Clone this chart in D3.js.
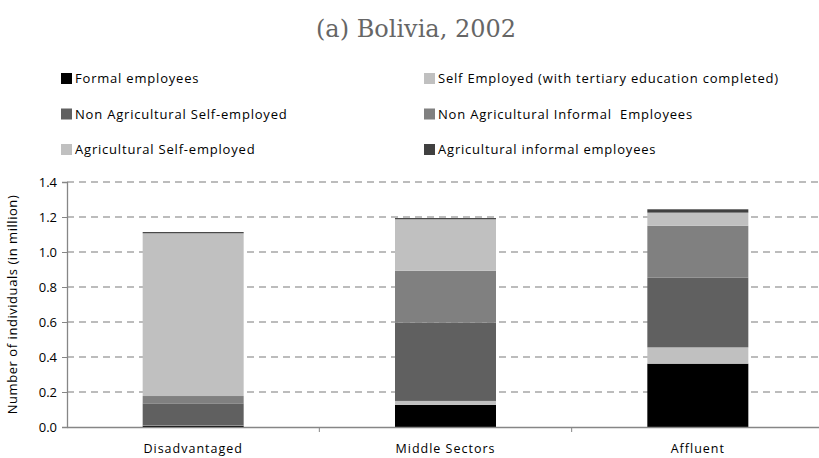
<!DOCTYPE html>
<html>
<head>
<meta charset="utf-8">
<script src="https://cdn.jsdelivr.net/npm/d3@7"></script>
<style>
body { margin: 0; background: #fff; }
text { font-family: "Open Sans", "DejaVu Sans", sans-serif; }
</style>
</head>
<body>
<script>
var width = 819,
    height = 458;

// categories along the x axis
var categories = ["Disadvantaged", "Middle Sectors", "Affluent"];

// series, bottom to top of each stack (values in million)
var seriesNames = [
  "Formal employees",
  "Self Employed (with tertiary education completed)",
  "Non Agricultural Self-employed",
  "Non Agricultural Informal  Employees",
  "Agricultural Self-employed",
  "Agricultural informal employees"
];
var formal        = [0.008, 0.126, 0.362];
var selfTertiary  = [0.002, 0.023, 0.093];
var nonAgSelf     = [0.125, 0.447, 0.398];
var nonAgInformal = [0.042, 0.297, 0.297];
var agSelf        = [0.930, 0.294, 0.075];
var agInformal    = [0.007, 0.007, 0.019];

var yTicks = [0, 0.2, 0.4, 0.6, 0.8, 1.0, 1.2, 1.4];

var colors = ["#000000", "#c0c0c0", "#606060", "#808080", "#c0c0c0", "#404040"];

var allSeries = [formal, selfTertiary, nonAgSelf, nonAgInformal, agSelf, agInformal];

// build a table for d3.stack
var table = categories.map(function(c, i) {
  var row = {cat: c};
  seriesNames.forEach(function(s, j) { row[s] = allSeries[j][i]; });
  return row;
});
var stacked = d3.stack().keys(seriesNames)(table);

var svg = d3.select("body").append("svg")
    .attr("width", width)
    .attr("height", height);

var x = d3.scaleBand().domain(categories).range([67, 824]).paddingInner(0).paddingOuter(0);
var y = d3.scaleLinear().domain([0, 1.4]).range([427, 182]);
var barW = 101;

// title
svg.append("text")
  .attr("x", 416)
  .attr("y", 37)
  .attr("text-anchor", "middle")
  .style("font-family", "'DejaVu Serif', 'Liberation Serif', serif")
  .style("font-size", "24px")
  .attr("fill", "#666")
  .text("(a) Bolivia, 2002");

// legend, two columns
var legend = svg.append("g").selectAll("g")
  .data(seriesNames)
  .enter().append("g")
  .attr("transform", function(d, i) {
    var col = i % 2, row = Math.floor(i / 2);
    return "translate(" + (col == 0 ? 61 : 424) + "," + (73 + row * 35.5) + ")";
  });
legend.append("rect")
  .attr("width", 11).attr("height", 11)
  .attr("fill", function(d, i) { return colors[i]; });
legend.append("text")
  .attr("x", 14).attr("y", 10)
  .style("font-size", "13px")
  .style("letter-spacing", "0.8px")
  .attr("fill", "#000")
  .style("white-space", "pre")
  .text(function(d) { return d; });

// gridlines
svg.append("g").selectAll("line")
  .data(yTicks.slice(1))
  .enter().append("line")
  .attr("x1", 67).attr("x2", width)
  .attr("y1", function(d) { return y(d); })
  .attr("y2", function(d) { return y(d); })
  .attr("stroke", "#a6a6a6")
  .attr("stroke-width", 1.3)
  .attr("stroke-dasharray", "7,5");

// bars
svg.append("g").selectAll("g")
  .data(stacked)
  .enter().append("g")
  .attr("fill", function(d, i) { return colors[i]; })
  .selectAll("rect")
  .data(function(d) { return d; })
  .enter().append("rect")
  .attr("x", function(d) { return x(d.data.cat) + x.bandwidth() / 2 - barW / 2; })
  .attr("width", barW)
  .attr("y", function(d) { return y(d[1]); })
  .attr("height", function(d) { return y(d[0]) - y(d[1]); });

// y axis
var yAxis = svg.append("g")
  .attr("transform", "translate(67,0)")
  .call(d3.axisLeft(y).tickValues(yTicks).tickFormat(d3.format(".1f")).tickSizeOuter(0).tickSize(5).tickPadding(5));
yAxis.select(".domain").attr("stroke", "#868686").attr("stroke-width", 1.3);
yAxis.selectAll(".tick line").attr("stroke", "#868686");
yAxis.selectAll("text").style("font-size", "13px").attr("fill", "#000")
  .style("font-family", "'Open Sans', sans-serif");

// x axis
var xAxis = svg.append("g")
  .attr("transform", "translate(0,427)")
  .call(d3.axisBottom(x).tickSize(0).tickPadding(17));
xAxis.select(".domain").attr("stroke", "#868686").attr("stroke-width", 1.3);
xAxis.selectAll("text").style("font-size", "12.5px").attr("fill", "#000")
  .style("letter-spacing", "1px");
// tick marks on band boundaries
svg.append("g").selectAll("line")
  .data(categories.slice(1))
  .enter().append("line")
  .attr("x1", function(d) { return x(d); })
  .attr("x2", function(d) { return x(d); })
  .attr("y1", 427).attr("y2", 432)
  .attr("stroke", "#868686");

// y axis title
svg.append("text")
  .attr("transform", "translate(17," + (y(0.7)) + ") rotate(-90)")
  .attr("text-anchor", "middle")
  .style("font-size", "13px")
  .style("letter-spacing", "0.55px")
  .attr("fill", "#000")
  .text("Number of individuals (in million)");
</script>
</body>
</html>
